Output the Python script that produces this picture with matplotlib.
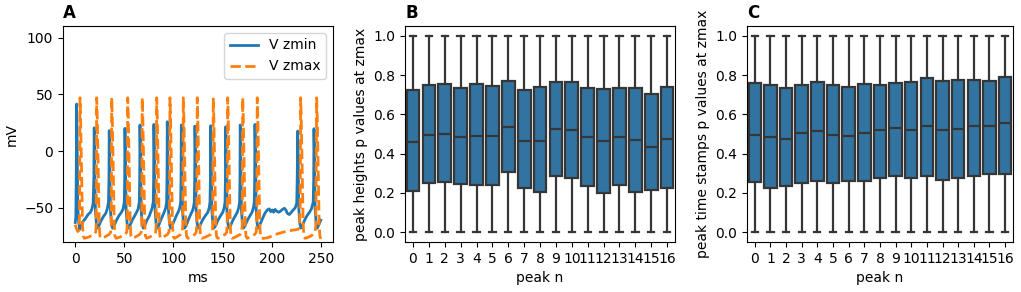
import numpy as np
import matplotlib
matplotlib.use("Agg")
import matplotlib.pyplot as plt

# ---- panel A: membrane potential traces (ms, mV) ----
t_zmin = [0, 0.6, 1.0, 1.4, 1.9, 2.6, 3.5, 4.6, 6, 8, 10, 13, 15.5, 17, 18.2, 18.9, 19.3,
          19.8, 20.5, 21.5, 22.6, 24, 26, 28.5, 31, 32.6, 33.8, 34.3, 34.6,
          35.1, 35.8, 36.8, 37.9, 39.5, 42, 44.5, 47, 48.7, 49.9, 50.3, 50.6,
          51.1, 51.8, 52.8, 53.9, 55.5, 58, 60.5, 62.5, 64, 65.2, 65.6, 65.9,
          66.4, 67.1, 68.1, 69.2, 70.7, 73, 75.5, 77.2, 78.3, 79.4, 79.8, 80.1,
          80.6, 81.3, 82.3, 83.4, 84.8, 87, 89.5, 91, 92.1, 93.0, 93.4, 93.7,
          94.2, 94.9, 95.9, 97.0, 98.5, 101, 103.5, 105.3, 106.4, 107.3, 107.7, 108.0,
          108.5, 109.2, 110.2, 111.3, 112.8, 115, 117.5, 119.2, 120.3, 121.2, 121.6, 121.9,
          122.4, 123.1, 124.1, 125.2, 126.8, 129.5, 132.5, 135, 136.4, 137.2, 137.6, 137.9,
          138.4, 139.1, 140.1, 141.2, 142.8, 145.3, 148, 150.2, 151.6, 152.5, 152.9, 153.2,
          153.7, 154.4, 155.4, 156.5, 158, 160.5, 163, 165, 166.4, 167.3, 167.7, 168.0,
          168.5, 169.2, 170.2, 171.3, 172.8, 175.3, 178, 180, 181.4, 182.3, 182.7, 183.0,
          183.5, 184.2, 185.2, 186.3, 188, 190.5, 193, 195.5, 197.5, 199, 200.5, 202, 203.5,
          205, 207, 209, 211, 213, 214.5, 216, 218, 220, 222, 224, 225.5, 226, 226.5,
          227, 227.7, 228.7, 229.8, 231.3, 233.5, 236, 238.5, 240.5, 242.3, 242.8, 243.1,
          243.6, 244.3, 245.3, 246.4, 247.5, 249, 250]
v_zmin = [-63, -58, -20, 41.5, 10, -50, -63, -69, -66, -62, -60, -56, -54, -51, -46, -25, 20.5,
          -5, -52, -64, -68, -66, -62, -58, -55, -51, -45, -25, 18,
          -5, -52, -64, -68, -66, -61, -57, -54, -51, -45, -25, 20,
          -5, -52, -64, -68, -66, -61, -57, -54, -51, -45, -25, 23,
          -5, -52, -64, -68, -66, -61, -57, -53, -50, -45, -25, 23.5,
          -5, -52, -64, -68, -66, -61, -56, -53, -50, -45, -25, 25.8,
          -5, -52, -64, -68, -66, -61, -56, -53, -50, -45, -25, 23,
          -5, -52, -64, -68, -66, -61, -56, -53, -50, -45, -25, 22,
          -5, -52, -64, -68, -66, -61, -57, -54, -50, -45, -25, 22.3,
          -5, -52, -64, -68, -66, -61, -57, -54, -50, -45, -25, 21.4,
          -5, -52, -64, -68, -66, -61, -57, -54, -50, -45, -25, 23,
          -5, -52, -64, -68, -66, -61, -57, -54, -50, -45, -25, 23.5,
          -5, -52, -64, -68, -65, -60, -55, -52, -51, -53.5, -52, -54, -51.5,
          -53, -54, -53, -51.5, -50.5, -52, -55, -56, -54, -52, -50, -46, -25, 17.6,
          -5, -52, -64, -68, -66, -61, -57, -54, -51, -45, -25, 19.7,
          -5, -52, -64, -68, -66, -63, -61]

t_zmax = [0, 1, 2.5, 3.8, 4.3, 4.6, 4.8,
          5.4, 6.4, 7.4, 8.1, 9.3, 13.3, 19.3, 20.8, 21.3, 21.6, 21.8,
          22.4, 23.4, 24.4, 25.1, 26.3, 29.5, 34.6, 36.1, 36.6, 36.9, 37.1,
          37.7, 38.7, 39.7, 40.4, 41.6, 45.2, 50.9, 52.4, 52.9, 53.2, 53.4,
          54.0, 55.0, 56.0, 56.7, 57.9, 60.8, 65.7, 67.2, 67.7, 68.0, 68.2,
          68.8, 69.8, 70.8, 71.5, 72.7, 75.5, 80.4, 81.9, 82.4, 82.7, 82.9,
          83.5, 84.5, 85.5, 86.2, 87.4, 89.6, 93.9, 95.4, 95.9, 96.2, 96.4,
          97.0, 98.0, 99.0, 99.7, 100.9, 103.2, 107.5, 109.0, 109.5, 109.8, 110.0,
          110.6, 111.6, 112.6, 113.3, 114.5, 117.1, 121.7, 123.2, 123.7, 124.0, 124.2,
          124.8, 125.8, 126.8, 127.5, 128.7, 132.3, 138.0, 139.5, 140.0, 140.3, 140.5,
          141.1, 142.1, 143.1, 143.8, 145.0, 147.8, 152.7, 154.2, 154.7, 155.0, 155.2,
          155.8, 156.8, 157.8, 158.5, 159.7, 162.8, 168.0, 169.5, 170.0, 170.3, 170.5,
          171.1, 172.1, 173.1, 173.8, 175.0, 177.9, 182.8, 184.3, 184.8, 185.1, 185.3,
          185.9, 186.9, 187.9, 188.6, 189.8, 192, 196, 200, 204, 208, 212, 216, 220, 224, 227,
          228.3, 229, 229.3, 229.5,
          230.1, 231.1, 232.1, 232.8, 234, 236, 240, 242.8, 244.3, 245, 245.5, 245.8,
          246.4, 247.4, 248.4, 249.1, 250]
v_zmax = [-65, -68, -71, -70, -60, 0, 47,
          30, -20, -65, -75, -77, -76, -73.5, -71.5, -65, 0, 47,
          30, -20, -65, -75, -77, -76, -73.5, -71.5, -65, 0, 47,
          30, -20, -65, -75, -77, -76, -73.5, -71.5, -65, 0, 47,
          30, -20, -65, -75, -77, -76, -73.5, -71.5, -65, 0, 47,
          30, -20, -65, -75, -77, -76, -73.5, -71.5, -65, 0, 47,
          30, -20, -65, -75, -77, -76, -73.5, -71.5, -65, 0, 47,
          30, -20, -65, -75, -77, -76, -73.5, -71.5, -65, 0, 47,
          30, -20, -65, -75, -77, -76, -73.5, -71.5, -65, 0, 47,
          30, -20, -65, -75, -77, -76, -73.5, -71.5, -65, 0, 47,
          30, -20, -65, -75, -77, -76, -73.5, -71.5, -65, 0, 47,
          30, -20, -65, -75, -77, -76, -73.5, -71.5, -65, 0, 47,
          30, -20, -65, -75, -77, -76, -73.5, -71.5, -65, 0, 47,
          30, -20, -65, -75, -77, -77, -76.5, -75, -73.5, -72.5, -71.5, -70.5, -70, -69.5, -69,
          -67, -50, 0, 47,
          30, -20, -65, -75, -77, -76.5, -75, -73, -71, -65, 0, 47,
          30, -20, -65, -75, -77.5]

# ---- panels B and C: box statistics per peak ----
peaks = list(range(17))
heights_q1 = [0.211, 0.250, 0.258, 0.245, 0.239, 0.239, 0.307, 0.224, 0.204,
              0.287, 0.275, 0.233, 0.202, 0.238, 0.207, 0.216, 0.225]
heights_med = [0.458, 0.496, 0.501, 0.484, 0.492, 0.492, 0.537, 0.462, 0.467,
               0.526, 0.521, 0.484, 0.462, 0.484, 0.470, 0.436, 0.475]
heights_q3 = [0.722, 0.749, 0.754, 0.732, 0.754, 0.742, 0.772, 0.725, 0.739,
              0.767, 0.767, 0.735, 0.728, 0.735, 0.735, 0.703, 0.740]

times_q1 = [0.255, 0.224, 0.233, 0.250, 0.261, 0.251, 0.263, 0.263, 0.277,
            0.284, 0.275, 0.287, 0.267, 0.275, 0.284, 0.297, 0.295]
times_med = [0.497, 0.487, 0.474, 0.506, 0.516, 0.497, 0.492, 0.504, 0.520,
             0.530, 0.523, 0.543, 0.518, 0.526, 0.542, 0.542, 0.557]
times_q3 = [0.761, 0.749, 0.735, 0.750, 0.764, 0.749, 0.739, 0.756, 0.750,
            0.761, 0.767, 0.784, 0.771, 0.776, 0.774, 0.771, 0.789]
whisk_lo = 0.0
whisk_hi = 1.0

box_color = "#3274a1"
line_color = "#363636"

fig = plt.figure(figsize=(10.21, 2.92), dpi=100)
axA = fig.add_axes([0.0617, 0.171, 0.2645, 0.74])
axB = fig.add_axes([0.3967, 0.171, 0.2645, 0.74])
axC = fig.add_axes([0.7316, 0.171, 0.2605, 0.74])

axA.plot(t_zmin, v_zmin, color="#1f77b4", lw=2, label="V zmin")
axA.plot(t_zmax, v_zmax, color="#ff7f0e", lw=2, ls="--", label="V zmax")
axA.set_ylim(-80.3, 110.3)
axA.set_yticks([-50, 0, 50, 100])
axA.set_xlabel("ms")
axA.set_ylabel("mV")
axA.legend(loc="upper right")
axA.set_title("A", loc="left", fontweight="bold")


def draw_boxes(ax, q1, med, q3):
    stats = [dict(q1=a, med=m, q3=b, whislo=whisk_lo, whishi=whisk_hi, fliers=[])
             for a, m, b in zip(q1, med, q3)]
    ax.bxp(stats, positions=peaks, widths=0.8, capwidths=0.4, patch_artist=True,
           showfliers=False,
           boxprops=dict(facecolor=box_color, edgecolor=line_color, linewidth=1.6),
           medianprops=dict(color=line_color, linewidth=1.6),
           whiskerprops=dict(color=line_color, linewidth=1.6),
           capprops=dict(color=line_color, linewidth=1.6))
    ax.set_xlim(-0.5, 16.5)
    ax.set_ylim(-0.05, 1.05)
    ax.set_xticks(peaks)
    ax.set_xticklabels([str(p) for p in peaks])
    ax.set_xlabel("peak n")


draw_boxes(axB, heights_q1, heights_med, heights_q3)
axB.set_ylabel("peak heights p values at zmax")
axB.set_title("B", loc="left", fontweight="bold")

draw_boxes(axC, times_q1, times_med, times_q3)
axC.set_ylabel("peak time stamps p values at zmax")
axC.set_title("C", loc="left", fontweight="bold")

fig.savefig("out.png", dpi=100)
